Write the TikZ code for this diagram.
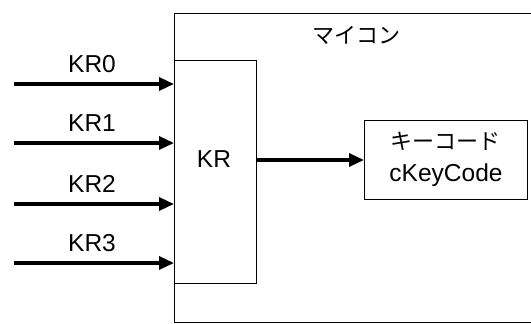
\documentclass[tikz,border=0pt]{standalone}
\usepackage{fontspec}
\setmainfont{Liberation Sans}
\newfontfamily\jp{Noto Sans CJK JP}
\usetikzlibrary{arrows.meta}
\begin{document}
\begin{tikzpicture}[x=1pt,y=-1pt,
  txt/.style={inner sep=0pt,anchor=base,font=\fontsize{24.5}{28}\selectfont},
  jtxt/.style={inner sep=0pt,anchor=base,font=\fontsize{22}{26}\selectfont\jp},
  thin box/.style={draw,line width=1pt,inner sep=0pt,anchor=north west},
  sig/.style={line width=3.3pt,-{Triangle[length=15pt,width=13pt]}}]
\useasboundingbox (0,0) rectangle (531,324);
\draw[line width=1pt] (531,13) -- (174,13) -- (174,322) -- (531,322);
\node[jtxt] (mc) at (356,43.5) {マイコン};
\node[thin box,minimum width=82pt,minimum height=223pt] (kr) at (174,60) {};
\node[txt] (krt) at (214,167) {KR};
\node[thin box,minimum width=163pt,minimum height=79pt] (kc) at (364,120) {};
\node[jtxt] (kc1) at (445,149.5) {キーコード};
\node[txt] (kc2) at (446,181) {cKeyCode};
\foreach \i/\y in {0/84,1/143,2/204,3/263}{
  \coordinate (s\i) at (14,\y);
  \coordinate (e\i) at (174,\y);
  \draw[sig] (s\i) -- (e\i);
  \node[txt] (l\i) at (92,\y-12) {KR\i};
}
\draw[sig] (kr.east |- 0,160) -- (kc.west |- 0,160);
\end{tikzpicture}
\end{document}
